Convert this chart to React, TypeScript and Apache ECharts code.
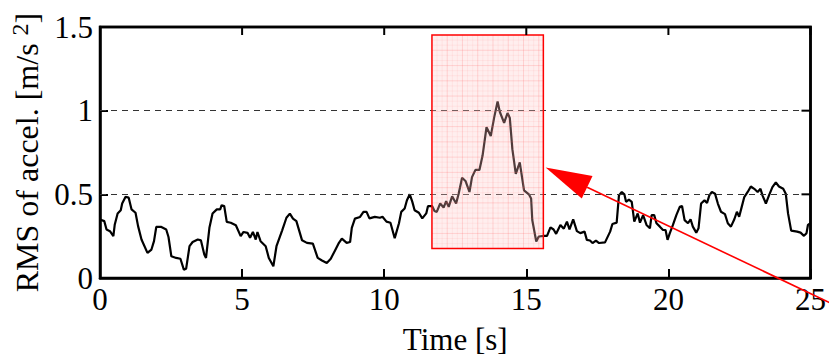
import React, { useEffect, useRef } from "react";
import * as echarts from "echarts";

const times = [
  0.0, 0.15, 0.23, 0.35, 0.47, 0.52, 0.62, 0.73, 0.78, 0.9, 1.01, 1.11, 1.25, 1.34, 1.46, 1.67, 1.81, 1.9, 1.98, 2.16,
  2.33, 2.41, 2.51, 2.68, 2.83, 2.95, 3.03, 3.15, 3.26, 3.44, 3.55, 3.67, 3.73, 3.85, 3.96, 4.11, 4.23, 4.28, 4.37, 4.46,
  4.6, 4.78, 4.95, 5.05, 5.19, 5.28, 5.38, 5.48, 5.54, 5.65, 5.83, 5.94, 6.1, 6.21, 6.41, 6.56, 6.68, 6.79, 6.91, 7.11,
  7.28, 7.49, 7.66, 7.81, 7.98, 8.12, 8.27, 8.39, 8.51, 8.68, 8.8, 8.86, 8.97, 9.15, 9.27, 9.38, 9.48, 9.67, 9.85, 9.94,
  10.08, 10.22, 10.37, 10.52, 10.6, 10.72, 10.8, 10.9, 10.99, 11.07, 11.22, 11.34, 11.48, 11.54, 11.69, 11.77, 11.85,
  11.97, 12.09, 12.18, 12.27, 12.39, 12.53, 12.62, 12.74, 12.86, 13.0, 13.09, 13.21, 13.35, 13.46, 13.6, 13.75, 13.87,
  13.99, 14.07, 14.22, 14.34, 14.42, 14.51, 14.63, 14.77, 14.92, 15.09, 15.17, 15.21, 15.35, 15.44, 15.62, 15.73, 15.85,
  15.96, 16.05, 16.2, 16.32, 16.43, 16.52, 16.65, 16.78, 16.9, 17.05, 17.13, 17.24, 17.33, 17.45, 17.56, 17.77, 17.95,
  18.03, 18.18, 18.26, 18.36, 18.45, 18.51, 18.61, 18.71, 18.8, 18.92, 19.0, 19.11, 19.23, 19.35, 19.41, 19.5, 19.58,
  19.7, 19.81, 19.9, 19.97, 20.05, 20.16, 20.28, 20.4, 20.48, 20.57, 20.69, 20.78, 20.86, 20.98, 21.06, 21.15, 21.27,
  21.36, 21.44, 21.53, 21.64, 21.74, 21.85, 21.99, 22.09, 22.2, 22.32, 22.41, 22.49, 22.58, 22.67, 22.79, 22.9, 23.02,
  23.14, 23.24, 23.31, 23.43, 23.54, 23.66, 23.78, 23.89, 24.04, 24.13, 24.21, 24.32, 24.53, 24.65, 24.77, 24.86, 24.91,
  25.0,
];

const rmsValues = [
  0.35, 0.34, 0.29, 0.28, 0.25, 0.32, 0.385, 0.405, 0.445, 0.485, 0.48, 0.41, 0.39, 0.31, 0.23, 0.15, 0.17, 0.22, 0.305,
  0.305, 0.29, 0.245, 0.13, 0.12, 0.115, 0.05, 0.055, 0.19, 0.215, 0.23, 0.225, 0.14, 0.12, 0.3, 0.385, 0.41, 0.41, 0.435,
  0.43, 0.335, 0.33, 0.315, 0.25, 0.275, 0.27, 0.24, 0.275, 0.23, 0.275, 0.22, 0.19, 0.12, 0.07, 0.19, 0.285, 0.36, 0.385,
  0.355, 0.34, 0.225, 0.21, 0.205, 0.12, 0.105, 0.09, 0.115, 0.165, 0.205, 0.235, 0.21, 0.215, 0.3, 0.355, 0.365, 0.395,
  0.395, 0.356, 0.365, 0.36, 0.366, 0.337, 0.33, 0.238, 0.327, 0.395, 0.415, 0.465, 0.5, 0.455, 0.405, 0.39, 0.356, 0.386,
  0.429, 0.429, 0.401, 0.395, 0.445, 0.421, 0.459, 0.425, 0.488, 0.445, 0.504, 0.599, 0.58, 0.514, 0.603, 0.646, 0.646,
  0.73, 0.901, 0.848, 0.96, 1.055, 0.992, 0.927, 0.986, 0.956, 0.77, 0.622, 0.691, 0.524, 0.5, 0.475, 0.347, 0.218, 0.248,
  0.252, 0.252, 0.303, 0.29, 0.264, 0.317, 0.295, 0.337, 0.29, 0.35, 0.28, 0.268, 0.277, 0.228, 0.224, 0.209, 0.224,
  0.209, 0.213, 0.277, 0.323, 0.331, 0.494, 0.514, 0.5, 0.455, 0.468, 0.455, 0.337, 0.386, 0.331, 0.376, 0.317, 0.297,
  0.376, 0.376, 0.327, 0.307, 0.287, 0.287, 0.228, 0.268, 0.317, 0.376, 0.425, 0.43, 0.346, 0.327, 0.351, 0.307, 0.271,
  0.297, 0.445, 0.464, 0.449, 0.494, 0.514, 0.504, 0.445, 0.396, 0.382, 0.327, 0.307, 0.351, 0.396, 0.366, 0.425, 0.484,
  0.514, 0.547, 0.533, 0.514, 0.533, 0.494, 0.445, 0.494, 0.543, 0.572, 0.547, 0.533, 0.504, 0.386, 0.283, 0.277, 0.271,
  0.252, 0.268, 0.317, 0.327,
];

const xTickValues = [0, 5, 10, 15, 20, 25];
const yTickValues = [0, 0.5, 1, 1.5];
const gridLineValues = [0.5, 1];
// highlighted window in data coordinates [tStart, tEnd, vLow, vHigh]
const highlightWindow = [11.68, 15.6, 0.177, 1.452];
// arrow in data coordinates: tip, and a point the shaft passes through
const arrowTip = [15.68, 0.661];
const arrowThrough = [19.93, 0.317];

const FONT = "Liberation Serif";

export default function App() {
  const ref = useRef<HTMLDivElement>(null);
  useEffect(() => {
    document.body.style.margin = "0";
    if (!ref.current) return;
    const chart = echarts.init(ref.current, undefined, { renderer: "svg" });
    const data = times.map((t, i) => [t, rmsValues[i]]);
    const xMin = xTickValues[0];
    const xMax = xTickValues[xTickValues.length - 1];
    const yMin = yTickValues[0];
    const yMax = yTickValues[yTickValues.length - 1];
    chart.setOption({
      animation: false,
      backgroundColor: "#fff",
      textStyle: { fontFamily: FONT },
      grid: {
        left: 100,
        right: 14,
        top: 27,
        bottom: 81,
        containLabel: false,
        show: true,
        borderColor: "#000",
        borderWidth: 2.5,
      },
      xAxis: {
        type: "value",
        min: xMin,
        max: xMax,
        interval: 5,
        axisLine: { show: true, onZero: false, lineStyle: { color: "#000", width: 2.5 } },
        axisTick: { show: true, inside: true, length: 9, lineStyle: { color: "#000", width: 2 } },
        axisLabel: { show: true, margin: 6, color: "#000", fontFamily: FONT, fontSize: 31 },
        splitLine: { show: false },
        name: "Time [s]",
        nameLocation: "middle",
        nameGap: 46,
        nameTextStyle: { color: "#000", fontFamily: FONT, fontSize: 31 },
      },
      yAxis: {
        type: "value",
        min: yMin,
        max: yMax,
        interval: 0.5,
        axisLine: { show: true, onZero: false, lineStyle: { color: "#000", width: 2.5 } },
        axisTick: { show: true, inside: true, length: 8, lineStyle: { color: "#000", width: 2 } },
        axisLabel: { show: true, margin: 7, color: "#000", fontFamily: FONT, fontSize: 31 },
        splitLine: { show: false },
        name: "{a|RMS of accel. [m/s }{b|2}{a|]}",
        nameLocation: "middle",
        nameGap: 50,
        nameTextStyle: {
          color: "#000",
          fontFamily: FONT,
          fontSize: 32,
          rich: {
            a: { fontFamily: FONT, fontSize: 32, color: "#000", lineHeight: 38 },
            b: { fontFamily: FONT, fontSize: 24, color: "#000", verticalAlign: "top", lineHeight: 38 },
          },
        },
      },
      series: [
        {
          type: "line",
          data,
          showSymbol: false,
          symbol: "none",
          lineStyle: { color: "#000", width: 2.2 },
          z: 3,
          markLine: {
            silent: true,
            symbol: "none",
            label: { show: false },
            lineStyle: { color: "#333", width: 1, type: [6, 5] },
            data: gridLineValues.map((v) => ({ yAxis: v })),
          },
        },
      ],
    });

    const toPx = (p: number[]) => chart.convertToPixel({ seriesIndex: 0 }, p) as number[];
    const elements: any[] = [];

    // frame: top and right edges plus their inward ticks
    const pTL = toPx([xMin, yMax]);
    const pBR = toPx([xMax, yMin]);
    elements.push({
      type: "polyline",
      z: 30,
      shape: {
        points: [
          [pTL[0] - 1, pTL[1]],
          [pBR[0], pTL[1]],
          [pBR[0], pBR[1] + 1],
        ],
      },
      style: { stroke: "#000000", lineWidth: 2.5, fill: "none" },
    });
    xTickValues.forEach((t) => {
      const p = toPx([t, yMax]);
      elements.push({
        type: "rect",
        z: 30,
        shape: { x: p[0] - 1, y: p[1], width: 2, height: 8 },
        style: { fill: "#000000" },
      });
    });
    yTickValues.forEach((v) => {
      const p = toPx([xMax, v]);
      elements.push({
        type: "rect",
        z: 30,
        shape: { x: p[0] - 9, y: p[1] - 1, width: 9, height: 2 },
        style: { fill: "#000000" },
      });
    });

    // highlighted window
    const [t0, t1, v0, v1] = highlightWindow;
    const tl = toPx([t0, v1]);
    const br = toPx([t1, v0]);
    const rx = tl[0];
    const ry = tl[1];
    const rw = br[0] - tl[0];
    const rh = br[1] - tl[1];
    elements.push({
      type: "rect",
      z: 20,
      shape: { x: rx, y: ry, width: rw, height: rh },
      style: { fill: "rgba(255,200,200,0.3)", stroke: "none" },
    });
    const major = rw / 7.3;
    const minor = major / 3;
    for (let x = rx + minor, k = 1; x < rx + rw - 0.5; x += minor, k++) {
      elements.push({
        type: "line",
        z: 21,
        shape: { x1: x, y1: ry, x2: x, y2: ry + rh },
        style: { stroke: k % 3 === 0 ? "rgba(255,90,90,0.2)" : "rgba(255,90,90,0.07)", lineWidth: 1 },
      });
    }
    for (let y = ry + minor, k = 1; y < ry + rh - 0.5; y += minor, k++) {
      elements.push({
        type: "line",
        z: 21,
        shape: { x1: rx, y1: y, x2: rx + rw, y2: y },
        style: { stroke: k % 3 === 0 ? "rgba(255,90,90,0.2)" : "rgba(255,90,90,0.07)", lineWidth: 1 },
      });
    }
    elements.push({
      type: "rect",
      z: 22,
      shape: { x: rx, y: ry, width: rw, height: rh },
      style: { fill: "none", stroke: "#ff0000", lineWidth: 1.5 },
    });

    // arrow
    const tip = toPx(arrowTip);
    const thr = toPx(arrowThrough);
    const dx = thr[0] - tip[0];
    const dy = thr[1] - tip[1];
    const len = Math.sqrt(dx * dx + dy * dy);
    const ux = dx / len;
    const uy = dy / len;
    const headLen = 46;
    const halfW = 12.5;
    const bx = tip[0] + ux * headLen;
    const by = tip[1] + uy * headLen;
    const shaft = 340;
    elements.push({
      type: "line",
      z: 23,
      shape: { x1: tip[0] + ux * shaft, y1: tip[1] + uy * shaft, x2: bx, y2: by },
      style: { stroke: "#ff0000", lineWidth: 1.6 },
    });
    elements.push({
      type: "polygon",
      z: 24,
      shape: {
        points: [
          [tip[0], tip[1]],
          [bx - uy * halfW, by + ux * halfW],
          [bx + uy * halfW, by - ux * halfW],
        ],
      },
      style: { fill: "#ff0000", stroke: "none" },
    });
    chart.setOption({ graphic: { elements } });

    return () => chart.dispose();
  }, []);
  return <div ref={ref} style={{ width: 829, height: 360 }} />;
}
